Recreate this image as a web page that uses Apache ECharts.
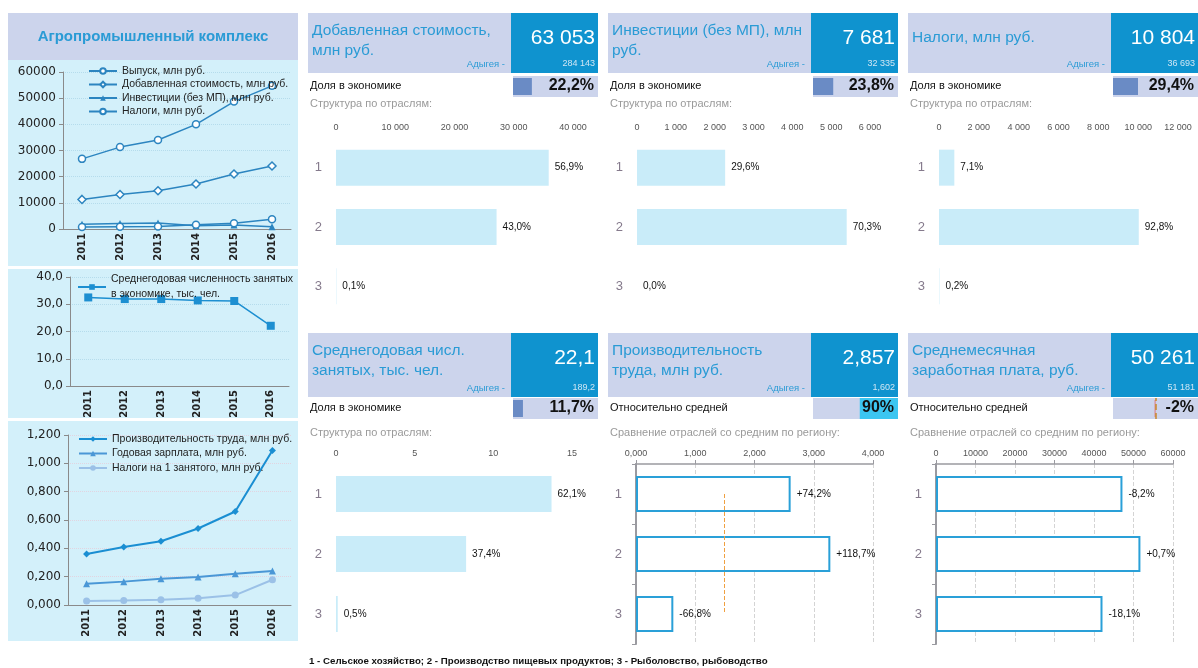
<!DOCTYPE html>
<html>
<head>
<meta charset="utf-8">
<script src="https://cdn.jsdelivr.net/npm/echarts@6/dist/echarts.min.js"></script>
<style>
  html, body { margin: 0; padding: 0; background: #fff; }
  #main { width: 1198px; height: 668px; }
</style>
</head>
<body>
<div id="main"></div>
<script>
// ---- данные: левая панель (динамика) ----
var years = ['2011', '2012', '2013', '2014', '2015', '2016'];
var output = [26800, 31300, 34000, 40000, 48700, 54700];
var addedValue = [11300, 13200, 14600, 17200, 21000, 24100];
var investments = [1800, 2100, 2300, 1200, 1500, 900];
var taxes = [800, 900, 1000, 1600, 2200, 3700];
var employed = [32.5, 31.9, 31.9, 31.4, 31.2, 22.1];
var productivity = [0.36, 0.41, 0.45, 0.54, 0.66, 1.09];
var annualWage = [0.15, 0.165, 0.185, 0.198, 0.22, 0.24];
var taxPerEmployed = [0.028, 0.032, 0.037, 0.047, 0.07, 0.178];

// ---- данные: карточки показателей ----
var branches = ['1', '2', '3'];
var kpiTitles = [
  ['Добавленная стоимость,', 'млн руб.'],
  ['Инвестиции (без МП), млн', 'руб.'],
  ['Налоги, млн руб.'],
  ['Среднегодовая числ.', 'занятых, тыс. чел.'],
  ['Производительность', 'труда, млн руб.'],
  ['Среднемесячная', 'заработная плата, руб.']
];
var kpiValues = ['63 053', '7 681', '10 804', '22,1', '2,857', '50 261'];
var regionValues = ['284 143', '32 335', '36 693', '189,2', '1,602', '51 181'];
var economyShare = [22.2, 23.8, 29.4, 11.7];   // доля в экономике, %
var relativeToAvg = [90, -2];                  // относительно средней, %

var valueAddedByBranch = [35900, 27100, 60];
var valueAddedShare = [56.9, 43.0, 0.1];
var investByBranch = [2270, 5400, 0];
var investShare = [29.6, 70.3, 0.0];
var taxByBranch = [770, 10030, 20];
var taxShare = [7.1, 92.8, 0.2];
var employedByBranch = [13.7, 8.27, 0.11];
var employedShare = [62.1, 37.4, 0.5];
var prodByBranch = [2.61, 3.28, 0.63];
var prodDiff = [74.2, 118.7, -66.8];
var prodAvg = 1.49;
var wageByBranch = [47200, 51750, 42150];
var wageDiff = [-8.2, 0.7, -18.1];

var footNote = '1 - Сельское хозяйство; 2 - Производство пищевых продуктов; 3 - Рыболовство, рыбоводство';

// ---- цвета ----
var LAV = '#ccd4ec', CYAN_BG = '#d3f0fa', BLUE = '#0f93cf', TITLE_BLUE = '#2a9bd5';
var FONT = '"Liberation Sans", Arial, sans-serif';

var grids = [], xAxes = [], yAxes = [], series = [], legends = [], graphics = [];

function addGrid(g, xa, ya) {
  grids.push(g);
  var i = grids.length - 1;
  xa.gridIndex = i; ya.gridIndex = i;
  xAxes.push(xa); yAxes.push(ya);
  return i;
}
function rect(x, y, w, h, fill, z) {
  graphics.push({ type: 'rect', z: z == null ? -10 : z, silent: true,
    shape: { x: x, y: y, width: w, height: h }, style: { fill: fill } });
}
function text(t, x, y, font, fill, align) {
  graphics.push({ type: 'text', z: 50, silent: true,
    style: { text: t, x: x, y: y, font: font, fill: fill,
      textAlign: align || 'left', align: align || 'left',
      textVerticalAlign: 'middle', verticalAlign: 'middle' } });
}
function spaced(v) { return String(v).replace(/\B(?=(\d{3})+(?!\d))/g, ' '); }
function plain(v) { return String(v); }
function comma(v, d) { return v.toFixed(d).replace('.', ','); }
function signed(v) { return (v > 0 ? '+' : '') + comma(v, 1) + '%'; }

// ---- левая панель ----
rect(8, 13, 290, 47, LAV);
text('Агропромышленный комплекс', 153, 37, 'bold 15px ' + FONT, TITLE_BLUE, 'center');
rect(8, 60, 290, 206, CYAN_BG);
rect(8, 269, 290, 149, CYAN_BG);
rect(8, 421, 290, 220, CYAN_BG);

function leftChart(pos, min, max, step, fmt, gridColor) {
  return addGrid(pos,
    { type: 'category', data: years,
      axisLine: { lineStyle: { color: '#8a8a8a' } },
      axisTick: { lineStyle: { color: '#8a8a8a' } },
      axisLabel: { rotate: 90, fontSize: 10, fontWeight: 'bold', color: '#222',
        fontFamily: 'DejaVu Sans', margin: 4 } },
    { type: 'value', min: min, max: max, interval: step,
      axisLine: { show: true, lineStyle: { color: '#8a8a8a' } },
      axisTick: { show: true, length: 4, lineStyle: { color: '#8a8a8a' } },
      splitLine: { lineStyle: { type: 'dotted', color: gridColor } },
      axisLabel: { formatter: fmt, fontSize: 12, color: '#222', fontFamily: 'DejaVu Sans', margin: 7 } });
}
function lineSeries(gi, name, data, symbol, size, color, hollow, width) {
  series.push({ type: 'line', name: name, data: data, xAxisIndex: gi, yAxisIndex: gi,
    symbol: symbol, symbolSize: size, showAllSymbol: true,
    lineStyle: { color: color, width: width || 1.5 },
    itemStyle: hollow ? { color: '#fff', borderColor: color, borderWidth: 1.5 } : { color: color } });
}
function legend(left, top, names, gap, lh) {
  legends.push({ left: left, top: top, orient: 'vertical', data: names,
    itemWidth: 28, itemHeight: 7, itemGap: gap, padding: 0,
    textStyle: { fontSize: 10.5, color: '#222', fontFamily: FONT, lineHeight: lh || 12 } });
}

var g1 = leftChart({ left: 63, top: 72, width: 228, height: 157 }, 0, 60000, 10000, plain, '#b5dcec');
lineSeries(g1, 'Выпуск, млн руб.', output, 'circle', 7, '#2c85c0', true);
lineSeries(g1, 'Добавленная стоимость, млн руб.', addedValue, 'diamond', 8, '#2c85c0', true);
lineSeries(g1, 'Инвестиции (без МП), млн руб.', investments, 'triangle', 7, '#2c85c0', false);
lineSeries(g1, 'Налоги, млн руб.', taxes, 'circle', 7, '#2c85c0', true);
legend(88, 65, ['Выпуск, млн руб.', 'Добавленная стоимость, млн руб.', 'Инвестиции (без МП), млн руб.', 'Налоги, млн руб.'], 1.5);

var g2 = leftChart({ left: 70, top: 277, width: 219, height: 109 }, 0, 40, 10,
  function (v) { return comma(v, 1); }, '#b5dcec');
lineSeries(g2, 'Среднегодовая численность занятых\nв экономике, тыс. чел.', employed, 'rect', 8, '#1d8fd1', false);
legend(77, 272, ['Среднегодовая численность занятых\nв экономике, тыс. чел.'], 3, 15);

var g3 = leftChart({ left: 68, top: 435, width: 223, height: 170 }, 0, 1.2, 0.2,
  function (v) { return comma(v, 3); }, '#e2d4e0');
lineSeries(g3, 'Производительность труда, млн руб.', productivity, 'diamond', 7, '#1a8ed2', false, 2);
lineSeries(g3, 'Годовая зарплата, млн руб.', annualWage, 'triangle', 7, '#4a97d6', false, 2);
lineSeries(g3, 'Налоги на 1 занятого, млн руб.', taxPerEmployed, 'circle', 7, '#9bc1e7', false, 2);
legend(78, 433, ['Производительность труда, млн руб.', 'Годовая зарплата, млн руб.', 'Налоги на 1 занятого, млн руб.'], 2.5);

// ---- карточки ----
var colX = [308, 608, 908];
var rows = [
  { y: 13, h: 60, r2: 76, r3: 104, gTop: 138, gH: 178 },
  { y: 333, h: 64, r2: 398, r3: 433, gTop: 464, gH: 180 }
];
var row2Labels = ['Доля в экономике', 'Доля в экономике', 'Доля в экономике', 'Доля в экономике',
  'Относительно средней', 'Относительно средней'];
var row2Values = ['22,2%', '23,8%', '29,4%', '11,7%', '90%', '-2%'];
var row3Labels = ['Структура по отраслям:', 'Структура по отраслям:', 'Структура по отраслям:',
  'Структура по отраслям:', 'Сравнение отраслей со средним по региону:', 'Сравнение отраслей со средним по региону:'];

for (var b = 0; b < 6; b++) {
  var x0 = colX[b % 3], R = rows[Math.floor(b / 3)], y0 = R.y;
  rect(x0, y0, 203, R.h, LAV);
  rect(x0 + 203, y0, 87, R.h, BLUE);
  var tl = kpiTitles[b];
  if (tl.length === 1) text(tl[0], x0 + 4, y0 + 25, '15.5px ' + FONT, TITLE_BLUE);
  else { text(tl[0], x0 + 4, y0 + 18, '15.5px ' + FONT, TITLE_BLUE); text(tl[1], x0 + 4, y0 + 38, '15.5px ' + FONT, TITLE_BLUE); }
  text(kpiValues[b], x0 + 287, y0 + 25, '21px ' + FONT, '#fff', 'right');
  text(regionValues[b], x0 + 287, y0 + R.h - 9, '9px ' + FONT, '#cfe6f4', 'right');
  text('Адыгея -', x0 + 197, y0 + R.h - 9, '9.5px ' + FONT, TITLE_BLUE, 'right');
  text(row2Labels[b], x0 + 2, R.r2 + 10, '11px ' + FONT, '#111');
  rect(x0 + 205, R.r2, 85, 21, LAV);
  text(row2Values[b], x0 + 286, R.r2 + 10, 'bold 16px ' + FONT, '#111', 'right');
  text(row3Labels[b], x0 + 2, R.r3, '11px ' + FONT, '#9a9a9a');
}

// мини-полоски в строке "Доля в экономике"/"Относительно средней"
function miniBar(b, value, min, max, inverse, color, barW, zeroLine) {
  var x0 = colX[b % 3], R = rows[Math.floor(b / 3)];
  var gi = addGrid({ left: x0 + 205, top: R.r2, width: 85, height: 21 },
    { type: 'value', min: min, max: max, inverse: inverse, show: false },
    { type: 'category', data: ['v'], show: false });
  var s = { type: 'bar', data: [value], xAxisIndex: gi, yAxisIndex: gi, barWidth: barW,
    itemStyle: { color: color }, silent: true, z: 3 };
  if (zeroLine) s.markLine = { silent: true, symbol: 'none', label: { show: false },
    lineStyle: { color: '#c9862a', type: 'dashed', width: 1.5 }, data: [{ xAxis: 0 }] };
  series.push(s);
}
for (var k = 0; k < 4; k++) miniBar(k, economyShare[k] / 100, 0, 1, false, '#6a8bc5', 17);
miniBar(4, relativeToAvg[0] / 100, 0, 2, true, '#3cc6f1', 21);
miniBar(5, relativeToAvg[1] / 100, -1, 1, false, '#e06666', 17, true);

// основные диаграммы по отраслям; у диаграмм сравнения (outlined) видны оси и сетка
function branchChart(b, left, width, max, step, fmt, data, labels, outlined, avg) {
  var R = rows[Math.floor(b / 3)];
  var gi = addGrid({ left: left, top: R.gTop, width: width, height: R.gH },
    { type: 'value', position: 'top', min: 0, max: max, interval: step,
      axisLine: { show: outlined, lineStyle: { color: '#9a9aa0', width: 1.5 } },
      axisTick: { show: outlined, length: 4, lineStyle: { color: '#9a9aa0' } },
      splitLine: { show: outlined, lineStyle: { type: 'dashed', color: '#d4d4d4' } },
      axisLabel: { formatter: fmt, fontSize: 9, color: '#555', margin: 6 } },
    { type: 'category', data: branches, inverse: true,
      axisLine: { show: outlined, lineStyle: { color: '#9a9aa0', width: 2 } },
      axisTick: { show: outlined, length: 4, lineStyle: { color: '#9a9aa0' } },
      axisLabel: { fontSize: 13, color: '#857a8c', margin: 14 } });
  var s = { type: 'bar', data: data, xAxisIndex: gi, yAxisIndex: gi, barWidth: 36, silent: true,
    itemStyle: outlined ? { color: '#fff', borderColor: '#2aa0d8', borderWidth: 2 } : { color: '#c9ecf9' },
    label: { show: true, position: 'right', distance: 6, fontSize: 10, color: '#111',
      formatter: function (p) { return labels[p.dataIndex]; } } };
  if (avg != null) s.markLine = { silent: true, symbol: 'none', label: { show: false },
    lineStyle: { color: '#f0a040', type: 'dashed', width: 1 },
    data: [[{ coord: [avg, '1'] }, { coord: [avg, '3'] }]] };
  series.push(s);
}
function pct(arr) { return arr.map(function (v) { return comma(v, 1) + '%'; }); }

branchChart(0, 336, 237, 40000, 10000, spaced, valueAddedByBranch, pct(valueAddedShare), false);
branchChart(1, 637, 233, 6000, 1000, spaced, investByBranch, pct(investShare), false);
branchChart(2, 939, 239, 12000, 2000, spaced, taxByBranch, pct(taxShare), false);
branchChart(3, 336, 236, 15, 5, plain, employedByBranch, pct(employedShare), false);
branchChart(4, 636, 237, 4, 1, function (v) { return comma(v, 3); }, prodByBranch, prodDiff.map(signed), true, prodAvg);
branchChart(5, 936, 237, 60000, 10000, plain, wageByBranch, wageDiff.map(signed), true);

text(footNote, 309, 661, 'bold 9.7px ' + FONT, '#111');

var chart = echarts.init(document.getElementById('main'));
chart.setOption({
  backgroundColor: '#fff',
  animation: false,
  textStyle: { fontFamily: FONT },
  grid: grids, xAxis: xAxes, yAxis: yAxes,
  legend: legends, series: series, graphic: graphics
});
</script>
</body>
</html>
